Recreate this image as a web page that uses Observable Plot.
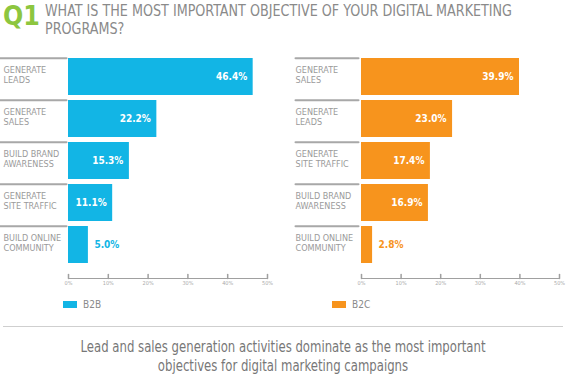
<!DOCTYPE html>
<html><head><meta charset="utf-8">
<script src="https://cdn.jsdelivr.net/npm/d3@7"></script>
<script src="https://cdn.jsdelivr.net/npm/@observablehq/plot@0.6"></script>
<style>
body{margin:0;width:566px;height:377px;position:relative;overflow:hidden;background:#fff;font-family:"Liberation Sans Narrow","DejaVu Sans Condensed","Liberation Sans",sans-serif;}
.abs{position:absolute;white-space:nowrap;}
.sw{position:absolute;width:14px;height:7px;}
.lg{position:absolute;font-size:10px;color:#8a8a8a;line-height:12px;}
#cap span{display:inline-block;}
</style></head><body>
<div class="abs" id="q1" style="left:3px;top:0px;font-size:26.5px;font-weight:bold;color:#8dc63f;">Q1</div>
<div class="abs" id="title" style="left:45px;top:3px;font-size:15px;line-height:17.5px;color:#8a8a8a;transform-origin:0 0;">
<div id="t1"></div><div id="t2"></div></div>
<div id="left" class="abs" style="left:0;top:50px"></div>
<div id="right" class="abs" style="left:283px;top:50px"></div>
<div class="sw" style="left:63px;top:301px;background:#12b5e5"></div>
<div class="lg" id="lg1" style="left:83px;top:299px"></div>
<div class="sw" style="left:332px;top:301px;background:#f7941d"></div>
<div class="lg" id="lg2" style="left:352px;top:299px"></div>
<div class="abs" style="left:3px;top:326px;width:560px;border-top:1px solid #cfcfcf"></div>
<div class="abs" id="cap" style="left:0;top:338px;width:566px;text-align:center;font-size:15px;line-height:19px;color:#777;transform-origin:283px 0;"></div>
<script>
const titleLines = ["WHAT IS THE MOST IMPORTANT OBJECTIVE OF YOUR DIGITAL MARKETING", "PROGRAMS?"];
const captionLines = ["Lead and sales generation activities dominate as the most important", "objectives for digital marketing campaigns"];
const seriesNames = ["B2B", "B2C"];
const b2bCategories = ["GENERATE\nLEADS", "GENERATE\nSALES", "BUILD BRAND\nAWARENESS", "GENERATE\nSITE TRAFFIC", "BUILD ONLINE\nCOMMUNITY"];
const b2bValues = [46.4, 22.2, 15.3, 11.1, 5.0];
const b2cCategories = ["GENERATE\nSALES", "GENERATE\nLEADS", "GENERATE\nSITE TRAFFIC", "BUILD BRAND\nAWARENESS", "BUILD ONLINE\nCOMMUNITY"];
const b2cValues = [39.9, 23.0, 17.4, 16.9, 2.8];
const xTicks = [0, 10, 20, 30, 40, 50];

document.getElementById("t1").textContent = titleLines[0];
document.getElementById("t2").textContent = titleLines[1];
document.getElementById("lg1").textContent = seriesNames[0];
document.getElementById("lg2").textContent = seriesNames[1];
document.getElementById("cap").innerHTML = captionLines.map(s => `<div><span>${s}</span></div>`).join("");

// fit title and caption widths to the reference
const tw = document.getElementById("t1").getBoundingClientRect().width;
document.getElementById("title").style.transform = `scaleX(${467 / tw})`;
const cw = document.querySelector("#cap span").getBoundingClientRect().width;
document.getElementById("cap").style.transform = `scaleX(${405 / cw})`;

const lineShape = {draw(ctx, l) { ctx.moveTo(0, 0); ctx.lineTo(0, -l); }};
const font = '"Liberation Sans Narrow","DejaVu Sans Condensed","Liberation Sans",sans-serif';

function panel(cats, vals, color, ml, mr, labelDx, sepLen, sepDx) {
  const data = cats.map((c, i) => ({cat: c, value: vals[i]}));
  const r0 = 7.3, r1 = 213.3, pad = 0.11;
  const step = (r1 - r0) / (cats.length - pad);
  const bw = step * (1 - pad);
  return Plot.plot({
    width: 283, height: 250,
    marginLeft: ml, marginRight: mr, marginTop: 7, marginBottom: 22,
    style: {fontFamily: font, background: "transparent", overflow: "visible"},
    x: {domain: [0, 50]},
    y: {domain: cats, range: [r0, r1], paddingInner: pad, paddingOuter: 0, axis: null},
    marks: [
      Plot.barX(data, {x: "value", y: "cat", fill: color}),
      Plot.text(data.filter(d => d.value >= 8), {x: "value", y: "cat", text: d => d.value.toFixed(1) + "%", textAnchor: "end", dx: -6, fill: "white", fontWeight: "bold", fontSize: 10}),
      Plot.text(data.filter(d => d.value < 8), {x: "value", y: "cat", text: d => d.value.toFixed(1) + "%", textAnchor: "start", dx: 6, fill: color, fontWeight: "bold", fontSize: 10}),
      Plot.text(data, {y: "cat", text: "cat", frameAnchor: "left", dx: labelDx, dy: -2, textAnchor: "start", lineHeight: 1.12, fontSize: 9, fill: "#9a9a9a"}),
      Plot.vector(cats, {y: d => d, frameAnchor: "left", length: sepLen, rotate: -90, anchor: "start", dx: sepDx, dy: -bw / 2, stroke: "#a8a8a8", strokeWidth: 2, shape: lineShape}),
      Plot.frame({anchor: "bottom", stroke: "#a0a0a0"}),
      Plot.vector(xTicks, {x: d => d, frameAnchor: "bottom", length: 4, rotate: 0, anchor: "start", stroke: "#a0a0a0", shape: lineShape}),
      Plot.axisX({ticks: xTicks, tickSize: 0, tickPadding: 3, tickFormat: d => d + "%", fontSize: 5.5, color: "#aaa", label: null})
    ]
  });
}

document.getElementById("left").append(panel(b2bCategories, b2bValues, "#12b5e5", 68, 16, -65, 66, -2));
document.getElementById("right").append(panel(b2cCategories, b2cValues, "#f7941d", 78, 7, -66, 63, -3));
</script>
</body></html>
